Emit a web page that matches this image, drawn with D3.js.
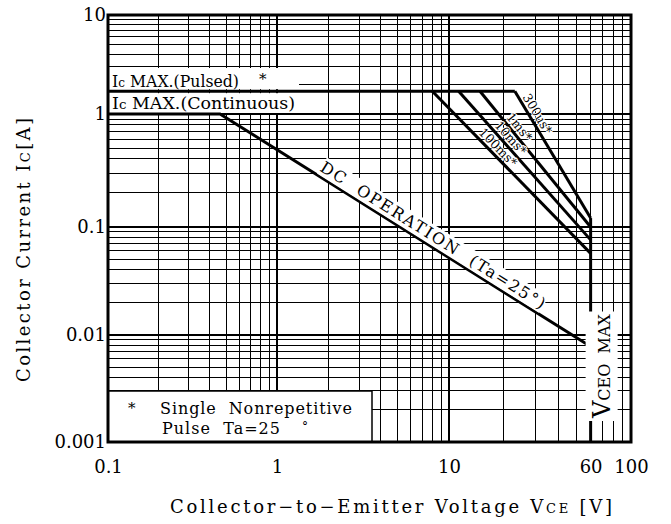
<!DOCTYPE html>
<html>
<head>
<meta charset="utf-8">
<script src="https://cdn.jsdelivr.net/npm/d3@7"></script>
<style>
  body { margin: 0; background: #fff; }
  svg { display: block; font-family: "DejaVu Serif", "Liberation Serif", serif; }
  text { white-space: pre; }
</style>
</head>
<body>
<svg id="chart" width="671" height="524"></svg>
<script>
// decade breakpoints of the printed log grid
const xDecades = [0.1, 1, 10, 100];
const yDecades = [0.001, 0.01, 0.1, 1, 10];
const xTickValues = [0.1, 1, 10, 60, 100];
const xTickLabels = ["0.1", "1", "10", "60", "100"];
const yTickValues = [10, 1, 0.1, 0.01, 0.001];
const yTickLabels = ["10", "1", "0.1", "0.01", "0.001"];

// safe operating area, VCE in V, Ic in A
const icPulsed = 1.7;
const icContinuous = 1;
const vceoMax = 60;
const dcOperation = [[0.1, 1], [0.46, 1], [60, 0.0078]];
const pulseNames = ["100ms*", "10ms*", "1ms*", "300us*"];
const pulseKnee = [8, 11.3, 14.8, 23];        // VCE where each pulse line leaves Ic pulsed
const pulseEnd = [0.057, 0.076, 0.1, 0.12];   // Ic reached at VCEO max

const svg = d3.select("#chart");
const box = { left: 108, right: 631, top: 15, bottom: 442 };

// the scanned grid is a bit uneven, so each decade gets its own stretch
const x = d3.scaleLog().domain(xDecades).range([box.left, 277, 449, box.right]);
const y = d3.scaleLog().domain(yDecades).range([box.bottom, 335, 227, 114, box.top]);

const isDecade = v => Math.abs(Math.log10(v) - Math.round(Math.log10(v))) < 1e-9;

// grid
const grid = svg.append("g").attr("shape-rendering", "crispEdges").attr("stroke", "#000");
grid.selectAll(".vx")
  .data(x.ticks())
  .join("line")
  .attr("x1", d => x(d)).attr("x2", d => x(d))
  .attr("y1", box.top).attr("y2", box.bottom)
  .attr("stroke-width", d => isDecade(d) ? 1.6 : 1);
grid.selectAll(".hy")
  .data(y.ticks())
  .join("line")
  .attr("y1", d => y(d)).attr("y2", d => y(d))
  .attr("x1", box.left).attr("x2", box.right)
  .attr("stroke-width", d => isDecade(d) ? 1.6 : 1);

// white boxes behind the Ic MAX captions
const knock = svg.append("g").attr("fill", "#fff");
knock.append("rect").attr("x", box.left + 1).attr("y", 68).attr("width", 190).attr("height", y(icPulsed) - 70);
knock.append("rect").attr("x", box.left + 1).attr("y", y(icPulsed) + 2).attr("width", 190).attr("height", y(icContinuous) - y(icPulsed) - 3);

// boundary lines
const line = d3.line().x(d => x(d[0])).y(d => y(d[1]));
const bounds = svg.append("g")
  .attr("fill", "none")
  .attr("stroke", "#000")
  .attr("stroke-width", 3)
  .attr("stroke-linejoin", "miter");

bounds.append("path").attr("d", line([[xDecades[0], icPulsed], [pulseKnee[3], icPulsed]]));
bounds.append("path").attr("d", line(dcOperation));
pulseKnee.forEach((k, i) => {
  bounds.append("path").attr("d", line([[k, icPulsed], [vceoMax, pulseEnd[i]]]));
});
bounds.append("path").attr("d", line([[vceoMax, pulseEnd[3]], [vceoMax, yDecades[0]]]));

// label placed along a boundary segment
function along(p0, p1, t) {
  const x0 = x(p0[0]), y0 = y(p0[1]), x1 = x(p1[0]), y1 = y(p1[1]);
  return {
    x: x0 + (x1 - x0) * t,
    y: y0 + (y1 - y0) * t,
    a: Math.atan2(y1 - y0, x1 - x0) * 180 / Math.PI
  };
}

function knockout(g, text, pad) {
  const b = text.node().getBBox();
  g.insert("rect", "text")
    .attr("x", b.x - pad).attr("y", b.y - pad)
    .attr("width", b.width + 2 * pad).attr("height", b.height + 2 * pad)
    .attr("fill", "#fff");
}

// pulse width labels
const pulseT = [0.38, 0.35, 0.30, 0.21];
pulseNames.forEach((name, i) => {
  const p = along([pulseKnee[i], icPulsed], [vceoMax, pulseEnd[i]], pulseT[i]);
  svg.append("text")
    .attr("transform", `translate(${p.x},${p.y}) rotate(${p.a})`)
    .attr("y", -3.5)
    .attr("text-anchor", "middle")
    .attr("font-size", 12.5)
    .attr("stroke", "#fff").attr("stroke-width", 2).attr("paint-order", "stroke")
    .text(name);
});

// Ic MAX captions
const cap1 = svg.append("text").attr("x", box.left + 4).attr("y", 87).attr("font-size", 17)
  .attr("textLength", 127).attr("lengthAdjust", "spacingAndGlyphs");
cap1.append("tspan").text("I");
cap1.append("tspan").attr("font-size", 13).text("c");
cap1.append("tspan").text(" MAX.(Pulsed)");
svg.append("text").attr("x", 259).attr("y", 84).attr("font-size", 15).text("*");

const cap2 = svg.append("text").attr("x", box.left + 4).attr("y", 109).attr("font-size", 17)
  .attr("textLength", 183).attr("lengthAdjust", "spacingAndGlyphs");
cap2.append("tspan").text("I");
cap2.append("tspan").attr("font-size", 13).text("c");
cap2.append("tspan").text(" MAX.(Continuous)");

// DC OPERATION
const dp = along(dcOperation[1], dcOperation[2], 0.26);
const dcG = svg.append("g").attr("transform", `translate(${dp.x},${dp.y}) rotate(${dp.a})`);
const dcT = dcG.append("text").attr("y", -5).attr("font-size", 16).attr("textLength", 262)
  .text("DC  OPERATION  (Ta=25°)");
knockout(dcG, dcT, 0);

// VCEO MAX
const vG = svg.append("g").attr("transform", `translate(${x(vceoMax) + 19},${box.bottom - 24}) rotate(-90)`);
const vT = vG.append("text").attr("font-size", 16);
vT.append("tspan").attr("font-size", 24).text("V");
vT.append("tspan").text("CEO  MAX");
knockout(vG, vT, 2);

// note box
svg.append("rect")
  .attr("x", box.left).attr("y", 391)
  .attr("width", 264).attr("height", box.bottom - 391)
  .attr("fill", "#fff").attr("stroke", "#000").attr("stroke-width", 1.5);
svg.append("text").attr("x", 128).attr("y", 413).attr("font-size", 15).text("*");
svg.append("text").attr("x", 160).attr("y", 414).attr("font-size", 16).attr("textLength", 192)
  .text("Single  Nonrepetitive");
svg.append("text").attr("x", 162).attr("y", 434).attr("font-size", 16).attr("textLength", 118)
  .text("Pulse  Ta=25");
svg.append("text").attr("x", 302).attr("y", 431).attr("font-size", 12).text("°");

// frame
svg.append("rect")
  .attr("x", box.left).attr("y", box.top)
  .attr("width", box.right - box.left).attr("height", box.bottom - box.top)
  .attr("fill", "none").attr("stroke", "#000").attr("stroke-width", 3);

// axes (labels only)
const xAxis = svg.append("g")
  .attr("transform", `translate(0,${box.bottom})`)
  .call(d3.axisBottom(x).tickValues(xTickValues).tickSize(0).tickFormat((d, i) => xTickLabels[i]));
xAxis.select(".domain").remove();
xAxis.selectAll("text")
  .attr("y", 31).attr("dy", 0)
  .attr("font-family", "DejaVu Serif").attr("font-size", 18).attr("fill", "#000");

const yAxis = svg.append("g")
  .attr("transform", `translate(${box.left},0)`)
  .call(d3.axisLeft(y).tickValues(yTickValues).tickSize(0).tickFormat((d, i) => yTickLabels[i]));
yAxis.select(".domain").remove();
yAxis.selectAll("text")
  .attr("x", -2)
  .attr("font-family", "DejaVu Serif").attr("font-size", 18).attr("fill", "#000");

// axis titles
const yt = svg.append("text")
  .attr("transform", "translate(30,250) rotate(-90)")
  .attr("text-anchor", "middle")
  .attr("font-size", 18)
  .attr("textLength", 264);
yt.append("tspan").text("Collector Current I");
yt.append("tspan").attr("font-size", 13).text("C");
yt.append("tspan").text("[A]");

const xt = svg.append("text")
  .attr("x", 170).attr("y", 513)
  .attr("font-size", 18)
  .attr("textLength", 442);
xt.append("tspan").text("Collector−to−Emitter Voltage V");
xt.append("tspan").attr("font-size", 13).text("CE");
xt.append("tspan").text(" [V]");
</script>
</body>
</html>
